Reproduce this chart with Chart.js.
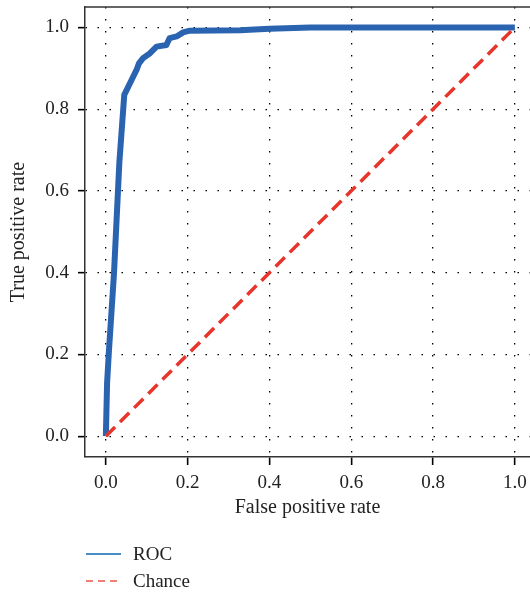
<!DOCTYPE html>
<html>
<head>
<meta charset="utf-8">
<script src="https://cdn.jsdelivr.net/npm/chart.js@4"></script>
<style>
  html, body { margin: 0; padding: 0; background: #fff; }
  #wrap { width: 530px; height: 595px; }
</style>
</head>
<body>
<div id="wrap"><canvas id="roc"></canvas></div>
<script>
/* ── data ─────────────────────────────────────────────────────── */
const rocFpr = [0, 0.003, 0.007, 0.02, 0.033, 0.045, 0.067, 0.075, 0.081, 0.091, 0.108, 0.124,
                0.148, 0.156, 0.173, 0.189, 0.205, 0.328, 0.40, 0.5, 1.0];
const rocTpr = [0, 0.13, 0.2, 0.4, 0.67, 0.835, 0.88, 0.896, 0.912, 0.925, 0.937, 0.953,
                0.957, 0.974, 0.978, 0.988, 0.992, 0.993, 0.997, 1.0, 1.0];
const chanceX = [0, 1];
const chanceY = [0, 1];
const tickVals = [0, 0.2, 0.4, 0.6, 0.8, 1.0];

const legendItems = [
  { label: 'ROC',    color: '#4a8cc6', dash: [] },
  { label: 'Chance', color: '#ef7f74', dash: [7, 5] }
];

const SERIF = "'Liberation Serif', 'DejaVu Serif', serif";

/* ── helpers ──────────────────────────────────────────────────── */
function pts(xs, ys) { return xs.map((x, i) => ({ x, y: ys[i] })); }

// top border of the frame
const framePlugin = {
  id: 'frame',
  afterDraw(chart) {
    const { ctx, chartArea: a } = chart;
    ctx.save();
    ctx.strokeStyle = '#333';
    ctx.lineWidth = 1.5;
    ctx.beginPath();
    ctx.moveTo(a.left, a.top);
    ctx.lineTo(a.right, a.top);
    ctx.stroke();
    ctx.restore();
  }
};

// stacked legend under the plot, bottom-left
const legendPlugin = {
  id: 'stackLegend',
  afterDraw(chart) {
    const { ctx } = chart;
    ctx.save();
    ctx.font = '19px ' + SERIF;
    ctx.textBaseline = 'middle';
    legendItems.forEach((it, i) => {
      const y = 554 + i * 27;
      ctx.strokeStyle = it.color;
      ctx.lineWidth = 2;
      ctx.setLineDash(it.dash);
      ctx.beginPath();
      ctx.moveTo(86, y);
      ctx.lineTo(121, y);
      ctx.stroke();
      ctx.setLineDash([]);
      ctx.fillStyle = '#222';
      ctx.fillText(it.label, 133, y + 1);
    });
    ctx.restore();
  }
};

function axis(title, titlePad, tickPad, tickLen, fit) {
  return {
    type: 'linear',
    afterBuildTicks: s => { s.ticks = tickVals.map(v => ({ value: v })); },
    afterFit: s => {
      fit(s);
      s.paddingTop = 0; s.paddingBottom = 0;
      s.paddingLeft = 0; s.paddingRight = 0;
    },
    grid: {
      color: '#000', lineWidth: 1.3,
      tickLength: tickLen, tickColor: '#000', tickWidth: 1.6
    },
    border: { display: true, color: '#333', width: 1.5, dash: [1.5, 10.5] },
    ticks: {
      color: '#222', padding: tickPad,
      font: { family: SERIF, size: 19 },
      callback: v => v.toFixed(1)
    },
    title: {
      display: true, text: title, color: '#222',
      font: { family: SERIF, size: 20 }, padding: titlePad
    }
  };
}

/* ── chart ────────────────────────────────────────────────────── */
new Chart(document.getElementById('roc').getContext('2d'), {
  type: 'line',
  data: {
    datasets: [
      {
        label: 'Chance',
        data: pts(chanceX, chanceY),
        borderColor: '#e8352b',
        borderWidth: 3.5,
        borderDash: [13, 7],
        pointRadius: 0,
        fill: false,
        order: 0
      },
      {
        label: 'ROC',
        data: pts(rocFpr, rocTpr),
        borderColor: '#2a64b0',
        borderWidth: 6,
        borderJoinStyle: 'round',
        pointRadius: 0,
        fill: false,
        tension: 0,
        order: 1
      }
    ]
  },
  options: {
    responsive: true,
    maintainAspectRatio: false,
    animation: false,
    layout: { padding: { top: 7, right: 0, bottom: 73, left: 0 } },
    plugins: { legend: { display: false }, tooltip: { enabled: false } },
    scales: {
      x: Object.assign(axis('False positive rate', { top: 0, bottom: 2 }, 7, 8,
                            s => { s.height = 65; }),
                       { min: -0.051, max: 1.037 }),
      y: Object.assign(axis('True positive rate', { top: 7, bottom: 0 }, 9, 7,
                            s => { s.width = 85; }),
                       { min: -0.051, max: 1.05 })
    }
  },
  plugins: [framePlugin, legendPlugin]
});
</script>
</body>
</html>
